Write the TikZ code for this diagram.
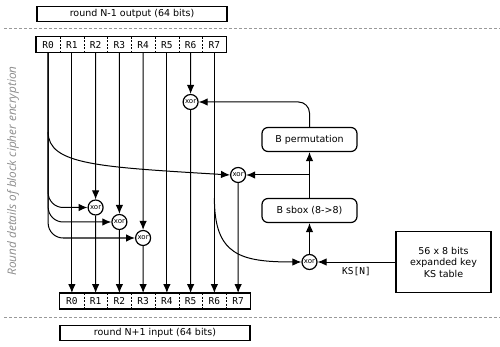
\documentclass[tikz,border=0pt]{standalone}
\usepackage{fontspec}
\setmainfont{DejaVu Sans}
\setmonofont{DejaVu Sans Mono}
\newfontfamily\sidefont{Open Sans}
\usetikzlibrary{arrows.meta,calc}
\begin{document}
\begin{tikzpicture}[x=1pt,y=-1pt,
  cell/.style={minimum width=23.75pt, minimum height=15.5pt, inner sep=0pt, font=\ttfamily\fontsize{9.5}{11}\selectfont},
  xorn/.style={circle, draw, line width=1.2pt, minimum size=15pt, inner sep=0pt, font=\fontsize{7}{7}\selectfont, fill=white},
  rbox/.style={draw, rounded corners=6pt, line width=1.2pt, minimum width=95pt, minimum height=24pt, inner sep=0pt, font=\fontsize{9.5}{11}\selectfont},
  sqbox/.style={draw, line width=1.2pt, minimum width=190pt, minimum height=15.5pt, inner sep=0pt, font=\fontsize{9.5}{11}\selectfont},
  arr/.style={-{Latex[length=9pt,width=7.5pt]}, line width=1pt},
  sep/.style={black!40, dash pattern=on 3pt off 2pt, line width=1pt},
  divl/.style={line width=0.8pt, dash pattern=on 2pt off 1.5pt}]
\useasboundingbox (0,0) rectangle (500,347);

% top and bottom info boxes
\node[sqbox] (topbox) at (132,14) {round N-1 output (64 bits)};
\node[sqbox] (botbox) at (155,333) {round N+1 input (64 bits)};

% separators
\coordinate (s1a) at (4,29); \coordinate (s1b) at (500,29);
\coordinate (s2a) at (4,317); \coordinate (s2b) at (500,317);
\draw[sep] (s1a) -- (s1b);
\draw[sep] (s2a) -- (s2b);

% side label
\node[rotate=90, text=black!45, font=\sidefont\itshape\fontsize{11.8}{13}\selectfont] (side) at (13,171) {Round details of block cipher encryption};

% registers
\foreach \i in {0,...,7} {
  \node[cell] (t\i) at ({48.125+23.75*\i},44.75) {R\i};
  \node[cell] (b\i) at ({71.875+23.75*\i},301) {R\i};
}
\draw[line width=1.2pt] (t0.north west) rectangle (t7.south east);
\draw[line width=1.2pt] (b0.north west) rectangle (b7.south east);
\foreach \i in {0,...,6} {
  \draw[divl] (t\i.north east) -- (t\i.south east);
  \draw[divl] (b\i.north east) -- (b\i.south east);
}

% xor nodes
\node[xorn] (xa) at (190.6,102) {xor};
\node[xorn] (xb) at (238.1,175) {xor};
\node[xorn] (x2) at (95.6,207.5) {xor};
\node[xorn] (x3) at (119.4,222) {xor};
\node[xorn] (x4) at (143.1,238) {xor};
\node[xorn] (xc) at (309.5,262) {xor};

% boxes
\node[rbox] (perm) at (309.5,139.5) {B permutation};
\node[rbox] (sbox) at (309.5,210.5) {B sbox (8->8)};
\node[draw, line width=1.2pt, minimum width=95pt, minimum height=61pt, inner sep=0pt, align=center,
      font=\fontsize{9.5}{11.5}\selectfont] (ks) at (443.5,262) {56 x 8 bits\\expanded key\\KS table};

% straight data lines
\draw[arr] (t1.south) -- (b0.north);
\draw[arr] (t2.south) -- (x2);
\draw[arr] (x2) -- (b1.north);
\draw[arr] (t3.south) -- (x3);
\draw[arr] (x3) -- (b2.north);
\draw[arr] (t4.south) -- (x4);
\draw[arr] (x4) -- (b3.north);
\draw[arr] (t5.south) -- (b4.north);
\draw[arr] (t6.south) -- (xa);
\draw[arr] (xa) -- (b5.north);
\draw[arr] (t7.south) -- (b6.north);
\draw[arr] (xb) -- (b7.north);

% R0 fan-out
\draw[arr, rounded corners=15pt] (t0.south) |- (x4.west);
\draw[arr, rounded corners=15pt] (t0.south) |- (x3.west);
\draw[arr, rounded corners=15pt] (t0.south) |- (x2.west);
\coordinate (c0) at (48.125,132);
\draw[arr] (c0) .. controls (48.125,165) and (100,167) .. (xb.west);

% R7 to key xor
\coordinate (c7) at (214.375,198);
\draw[arr] (c7) .. controls (214.375,255) and (240,262) .. (xc.west);

% f function
\draw[arr] (ks.west) -- node[below=1pt, font=\ttfamily\fontsize{9.5}{11}\selectfont] (ksl) {KS[N]} (xc.east);
\draw[arr] (xc) -- (sbox.south);
\draw[arr] (sbox.north) -- (perm.south);
\coordinate (br) at (sbox.north |- xb);
\draw[arr] (br) -- (xb.east);
\draw[arr, rounded corners=11pt] (perm.north) |- (xa.east);
\end{tikzpicture}
\end{document}
